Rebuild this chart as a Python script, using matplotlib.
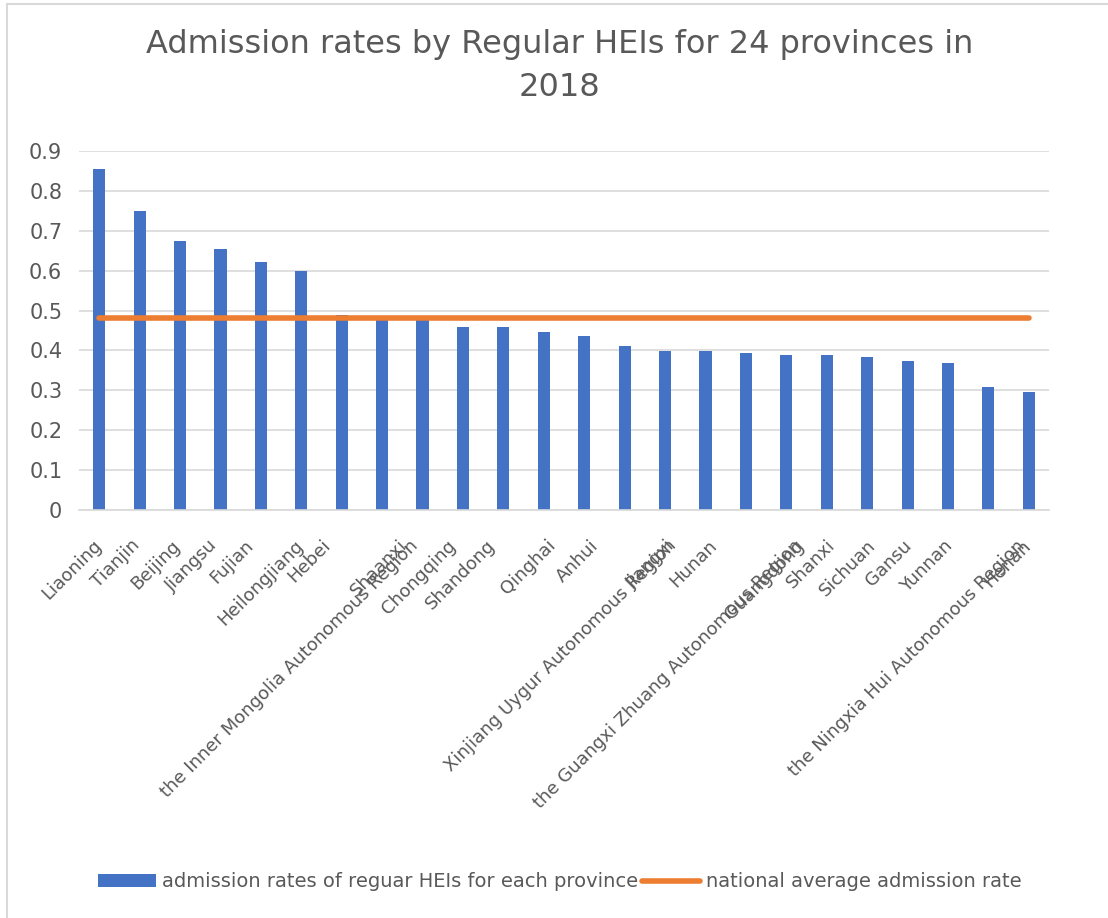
import matplotlib.pyplot as plt
from matplotlib.lines import Line2D
from matplotlib.transforms import ScaledTranslation

# admission rates of regular HEIs, 2018
provinces = ['Liaoning', 'Tianjin', 'Beijing', 'Jiangsu', 'Fujian', 'Heilongjiang', 'Hebei',
             'the Inner Mongolia Autonomous Region', 'Shaanxi', 'Chongqing', 'Shandong', 'Qinghai',
             'Anhui', 'Xinjiang Uygur Autonomous Region', 'Jiangxi', 'Hunan',
             'the Guangxi Zhuang Autonomous Region', 'Guangdong', 'Shanxi', 'Sichuan', 'Gansu',
             'Yunnan', 'the Ningxia Hui Autonomous Region', 'Henan']
rates = [0.854, 0.749, 0.674, 0.654, 0.621, 0.599, 0.490, 0.483, 0.478, 0.460, 0.458, 0.446,
         0.437, 0.411, 0.399, 0.398, 0.393, 0.389, 0.388, 0.384, 0.374, 0.368, 0.308, 0.295]
national_avg = 0.4805
yticks = [0, 0.1, 0.2, 0.3, 0.4, 0.5, 0.6, 0.7, 0.8, 0.9]
ytick_labels = ['0', '0.1', '0.2', '0.3', '0.4', '0.5', '0.6', '0.7', '0.8', '0.9']

# horizontal nudges (pixels) for the rotated category labels
label_nudge = [0, -2, -2, -5, -10, 0, -13, 34, -18, -9, -10, 10,
               12, 50, 8, 9, 54, 16, 6, 6, 2, 2, 34, 0]

grey = '#595959'
plt.rcParams['font.family'] = ['DejaVu Sans']

fig = plt.figure(figsize=(11.08, 9.18), dpi=100)
ax = fig.add_axes([0.0713, 0.4444, 0.8755, 0.3911])

x = list(range(len(provinces)))
bars = ax.bar(x, rates, width=0.3, color='#4472C4', zorder=2,
              label='admission rates of reguar HEIs for each province')
line, = ax.plot(x, [national_avg] * len(x), color='#ED7D31', linewidth=4,
                solid_capstyle='round', zorder=3, label='national average admission rate')

ax.set_xlim(-0.5, len(x) - 0.5)
ax.set_ylim(0, 0.9)
ax.set_yticks(yticks)
ax.set_yticklabels(ytick_labels, fontsize=15, color=grey)
ax.set_xticks(x)
ax.set_xticklabels(provinces, rotation=45, ha='right', va='top', rotation_mode='anchor',
                   fontsize=13, color=grey)
ax.tick_params(axis='y', length=0, pad=12)
ax.tick_params(axis='x', length=0, pad=19)
ax.grid(axis='y', color='#D9D9D9', linewidth=1.2, zorder=0)
for side in ['top', 'right', 'left']:
    ax.spines[side].set_visible(False)
ax.spines['bottom'].set_color('#D9D9D9')
ax.spines['bottom'].set_linewidth(1.2)

fig.suptitle('Admission rates by Regular HEIs for 24 provinces in\n2018',
             x=0.505, y=0.968, fontsize=23, color=grey, linespacing=1.5)

fig.legend([bars, line], [bars.get_label(), line.get_label()],
           loc='lower center', bbox_to_anchor=(0.505, 0.01), ncol=2, frameon=False,
           fontsize=14, labelcolor=grey, handlelength=3.0, handletextpad=0.3, columnspacing=0.2)

# chart area border (left and top edges)
bx, by = 7 / 1108, 1 - 4 / 918
fig.add_artist(Line2D([bx, bx], [0, by], transform=fig.transFigure, color='#D9D9D9', lw=1.5))
fig.add_artist(Line2D([bx, 1], [by, by], transform=fig.transFigure, color='#D9D9D9', lw=1.5))

for lbl, dx in zip(ax.get_xticklabels(), label_nudge):
    lbl.set_transform(lbl.get_transform() + ScaledTranslation((dx - 7) / 100, 0, fig.dpi_scale_trans))

fig.savefig('out.png', dpi=100)
